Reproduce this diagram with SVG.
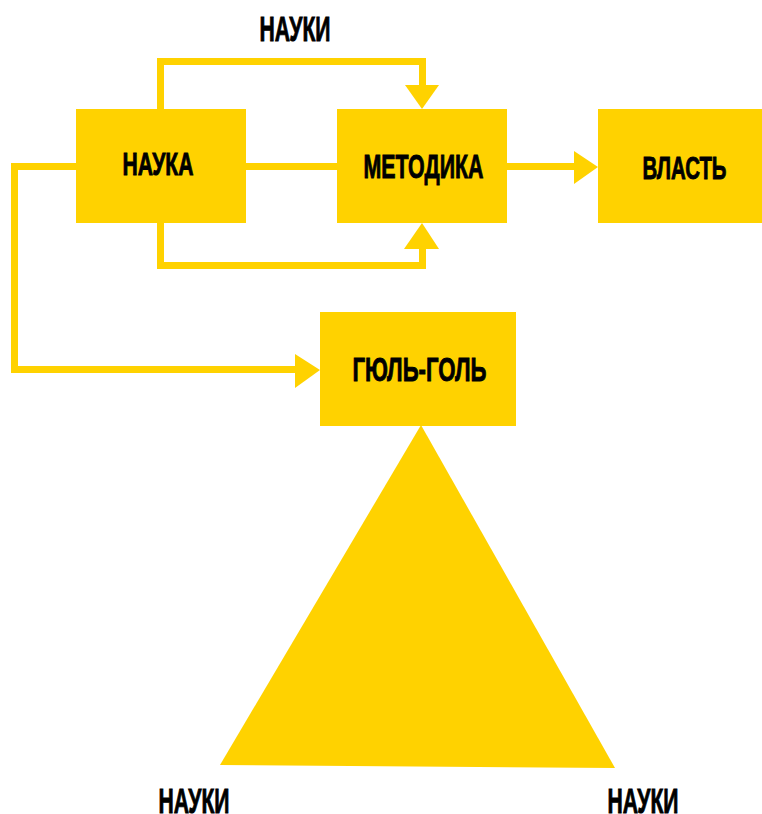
<svg xmlns="http://www.w3.org/2000/svg" width="762" height="814" viewBox="0 0 762 814">
<style>
.box{fill:#FFD200}
.ln{fill:none;stroke:#FFD200;stroke-width:7;stroke-linejoin:miter;stroke-linecap:butt}
.ah{fill:#FFD200}
text{font-family:"Liberation Sans","DejaVu Sans",sans-serif;font-weight:bold;fill:#000;stroke:#000;stroke-width:0.9;stroke-linejoin:miter;text-anchor:start}
</style>
<rect width="762" height="814" fill="#fff"/>
<g id="connectors">
<polyline class="ln" points="160.5,109 160.5,61.5 422.5,61.5 422.5,86"/>
<polygon class="ah" points="405,85 439,85 422,109"/>
<polyline class="ln" points="160.5,223 160.5,265.5 422.5,265.5 422.5,248"/>
<polygon class="ah" points="404,249 439,249 422,223"/>
<line class="ln" x1="246" y1="166.5" x2="337" y2="166.5"/>
<polyline class="ln" points="76,166.5 14.5,166.5 14.5,369.5 296,369.5"/>
<polygon class="ah" points="295,354 295,388 320,370"/>
<line class="ln" x1="507" y1="166.5" x2="575" y2="166.5"/>
<polygon class="ah" points="574,151 574,184 598,167"/>
</g>
<g id="nauka">
<rect class="box" x="76" y="109" width="170" height="114"/>
<text x="122.5" y="175" font-size="32" textLength="71" lengthAdjust="spacingAndGlyphs">НАУКА</text>
</g>
<g id="metodika">
<rect class="box" x="337" y="109" width="170" height="114"/>
<text x="363.5" y="177.5" font-size="33" textLength="120" lengthAdjust="spacingAndGlyphs">МЕТОДИКА</text>
</g>
<g id="vlast">
<rect class="box" x="598" y="109" width="164" height="114"/>
<text x="642.5" y="178.5" font-size="32" textLength="84" lengthAdjust="spacingAndGlyphs">ВЛАСТЬ</text>
</g>
<g id="gyul-gol">
<rect class="box" x="320" y="312" width="196" height="114"/>
<text x="352.5" y="380.5" font-size="34" textLength="134" lengthAdjust="spacingAndGlyphs">ГЮЛЬ-ГОЛЬ</text>
</g>
<g id="triangle">
<polygon class="box" points="421,425 220,765 615,768"/>
</g>
<g id="labels">
<text x="259.5" y="40.5" font-size="35" textLength="71" lengthAdjust="spacingAndGlyphs">НАУКИ</text>
<text x="158.5" y="812.5" font-size="35" textLength="71" lengthAdjust="spacingAndGlyphs">НАУКИ</text>
<text x="607.5" y="812.5" font-size="35" textLength="71" lengthAdjust="spacingAndGlyphs">НАУКИ</text>
</g>
</svg>
